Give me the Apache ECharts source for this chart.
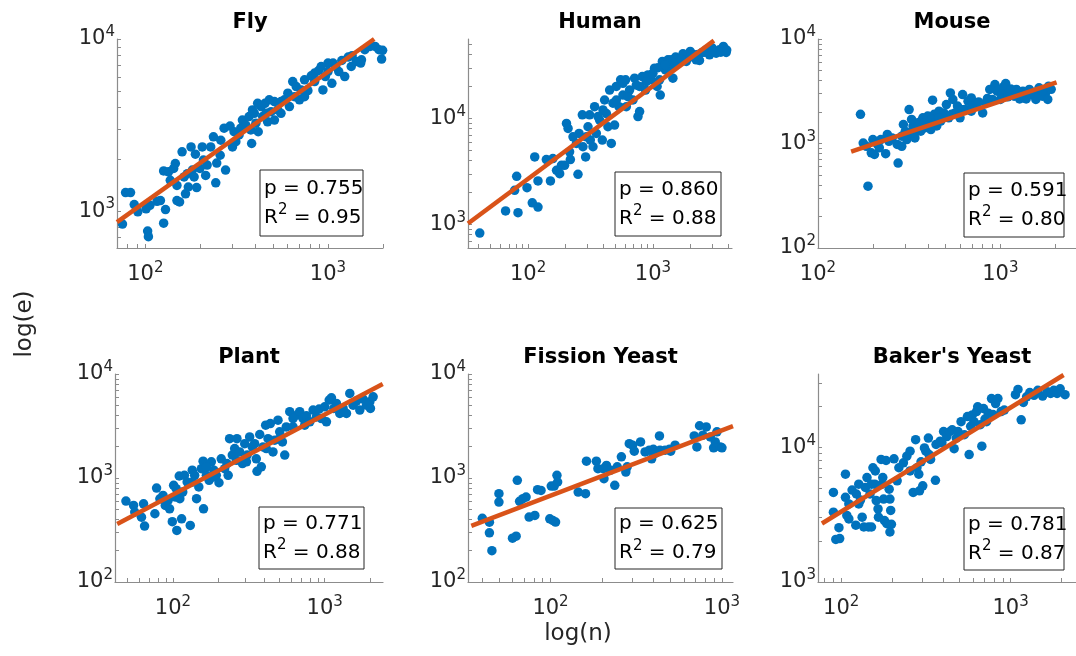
<!DOCTYPE html>
<html>
<head>
<meta charset="utf-8">
<script src="https://cdn.jsdelivr.net/npm/echarts@6/dist/echarts.min.js"></script>
<style>
  html, body { margin: 0; background: #fff; }
  #chart { width: 1076px; height: 656px; }
</style>
</head>
<body>
<div id="chart"></div>
<script>
// points: [n, e]
const fly = [[75,840],[78,1280],[83,1280],[87,1090],[91,990],[101,1030],[106,1080],[103,765],[104,710],[116,1140],[126,850],[129,1020],[126,1710],[134,1690],[143,1770],[146,1890],[149,1410],[154,1130],[159,2210],[163,1580],[166,1260],[172,1380],[178,2360],[181,1730],[188,2140],[191,1370],[199,1770],[205,2360],[208,1980],[214,1610],[218,1850],[236,2700],[243,1460],[246,1900],[257,2110],[270,3030],[275,1730],[291,3120],[300,2360],[313,2530],[326,2770],[340,3380],[355,3160],[370,3540],[382,2470],[395,3700],[403,3240],[415,2890],[430,4050],[439,3540],[452,4230],[467,3300],[488,3780],[509,4330],[530,3870],[553,3700],[577,4430],[615,4050],[641,5660],[655,4620],[698,4430],[713,5060],[744,5790],[776,5010],[810,6110],[845,6340],[889,6560],[938,5060],[967,6050],[1000,7250],[1050,5530],[1100,6920],[1145,6470],[1190,7500],[1235,6050],[1290,7850],[1355,8000],[1430,7410],[1510,7250],[1590,8670],[1700,9060],[1810,9060],[1900,8670],[1965,7640],[1990,8600],[306,2890],[333,3030],[386,3870],[412,4230],[458,3700],[477,4430],[553,4330],[603,4840],[670,5290],[845,5660],[918,6920],[1000,6470],[1066,7250],[259,2580],[228,2360],[170,1650],[185,1580],[137,1510],[149,1150],[121,1150],[378,2960],[509,3380],[1340,6920],[1525,7570],[744,4620]];
const human = [[41,830],[66,1340],[83,1290],[81,2840],[78,2100],[98,2220],[108,1600],[120,1460],[113,4330],[120,2570],[140,4090],[151,2570],[158,4180],[169,3240],[179,3010],[185,3610],[196,3610],[203,8970],[209,8030],[218,4090],[215,4840],[251,2970],[256,7210],[272,10800],[275,5400],[289,4330],[302,8340],[315,6240],[331,5400],[341,12900],[352,7210],[374,9640],[393,6240],[410,14900],[424,11100],[436,8340],[450,18500],[464,5800],[493,8650],[509,14900],[535,12900],[551,23100],[575,16600],[604,23100],[612,12900],[650,18500],[692,14900],[713,23900],[759,10400],[782,11600],[782,20000],[822,24800],[873,18500],[912,25700],[970,23100],[1030,29700],[1080,20000],[1145,16600],[1190,34400],[1260,28600],[1320,35600],[1400,35600],[1445,23900],[1520,37800],[1610,34400],[1740,40600],[1850,34400],[1990,42800],[2150,39700],[2360,35200],[2480,41800],[2670,44300],[2840,39700],[2990,46000],[3210,41200],[3410,44300],[3670,47700],[3860,41800],[509,20000],[575,21400],[631,16000],[736,20600],[1000,26700],[1130,23100],[1360,29700],[398,12000],[363,10400],[311,10800],[479,13900],[244,5800],[229,6700],[293,6700],[885,22200],[2220,35600],[1100,30000],[1250,32000],[1500,33000],[1700,36000],[2000,38000],[2300,40000],[2600,42000],[3000,43000],[3500,42000],[3900,44000]];
const mouse = [[171,1900],[188,390],[177,1010],[184,940],[196,815],[204,785],[200,1090],[212,980],[235,800],[221,1090],[245,1050],[255,1130],[275,650],[272,980],[288,1175],[294,1520],[316,2110],[307,1090],[319,1265],[332,1470],[340,1130],[354,1580],[366,1310],[376,1760],[384,1410],[400,1830],[408,1520],[425,2600],[434,1900],[448,1470],[461,2040],[471,1640],[490,1960],[506,2360],[521,1760],[532,3050],[549,2640],[565,1960],[582,2280],[601,1760],[621,2940],[639,2110],[665,2540],[693,2730],[721,2280],[743,2450],[800,1960],[832,2450],[875,3290],[904,2640],[934,3670],[960,3170],[1000,2640],[1040,3490],[1070,3750],[1107,3050],[1140,3330],[1190,2840],[1225,3290],[1276,2670],[1330,3170],[1386,2670],[1443,3290],[1503,2940],[1566,2640],[1630,3410],[1700,2840],[1770,3050],[1820,2640],[1840,3540],[326,1700],[347,1310],[368,1640],[392,1640],[416,1360],[443,1760],[480,1760],[288,940],[240,1220],[217,910],[301,1310],[693,2040],[1020,2940],[1250,3100],[1600,3050],[310,1200],[330,1250],[350,1400],[360,1500],[380,1550],[420,1700],[440,1600],[460,1750],[500,1800],[540,1900],[580,2000],[620,2100],[700,2300],[760,2500],[850,2700],[1100,2800],[1300,2900],[1450,3000],[1700,3200],[1900,3300]];
const plant = [[49,600],[55,545],[56,470],[62,420],[64,565],[65,345],[76,453],[78,800],[82,630],[86,680],[89,545],[93,610],[95,505],[99,380],[101,850],[104,655],[106,313],[110,1045],[114,405],[116,733],[119,1060],[124,915],[130,350],[134,1190],[139,1060],[143,632],[148,820],[154,1230],[158,1450],[159,505],[166,1060],[173,950],[179,1430],[186,1190],[193,1060],[201,900],[208,1530],[219,1230],[227,1375],[236,2390],[246,1660],[255,1920],[264,2390],[275,1780],[287,1375],[297,2140],[308,1660],[320,2480],[333,1990],[345,2140],[358,1160],[373,2620],[382,1280],[392,1990],[408,3220],[423,2390],[438,3340],[456,1780],[468,2310],[492,3600],[505,2780],[526,2220],[545,1660],[558,3100],[588,4340],[618,3100],[657,4030],[684,4340],[720,3730],[757,3960],[797,3470],[838,4500],[881,3870],[918,4600],[951,3730],[1000,4840],[1026,3470],[1070,5610],[1107,5910],[1147,4670],[1194,5210],[1256,4180],[1321,4670],[1390,4180],[1462,6510],[1538,5020],[1618,5490],[1702,4500],[1790,5740],[1884,5020],[1982,5400],[2084,6040],[2000,4670],[166,1280],[184,1020],[231,1060],[262,1480],[305,1430],[354,1530],[412,1920],[505,2390],[618,3730],[738,3220],[105,790],[135,915],[111,632]];
const fission = [[40,410],[44,376],[44,297],[45.5,200],[50,706],[50,587],[60,264],[63,276],[64,950],[66,596],[69,632],[75,421],[81,437],[88,760],[99,405],[103,391],[107,377],[101,837],[105,837],[109,1060],[110,915],[145,733],[160,706],[162,1450],[185,1450],[189,1230],[205,986],[212,1320],[224,1190],[237,850],[259,1600],[275,1140],[280,1280],[288,2140],[301,2070],[308,1810],[335,2220],[356,1780],[377,1850],[389,1530],[398,1890],[432,2540],[435,1850],[466,1850],[494,1890],[502,1810],[533,2070],[689,2540],[714,1990],[740,3180],[774,2580],[810,3100],[855,2480],[894,1950],[914,2220],[935,2780],[978,1990],[1000,1950],[72,656],[84,773],[245,1280],[407,1720],[203,1230]];
const baker = [[90,4620],[90,3300],[93,2070],[98,2100],[97,2530],[106,6310],[106,4250],[108,3120],[111,3800],[116,4810],[122,2640],[123,4500],[127,5320],[130,4060],[133,3030],[136,2560],[139,5040],[142,5960],[145,2560],[148,4500],[151,2560],[154,7050],[158,5320],[159,6670],[161,4020],[165,3490],[166,3030],[172,8130],[174,5320],[176,5960],[178,4130],[180,2860],[184,7980],[186,2710],[192,4890],[194,4130],[196,3400],[198,2680],[194,2350],[205,8210],[219,7050],[233,7670],[244,8590],[255,9350],[266,4620],[275,11400],[280,7050],[287,6310],[290,4750],[296,7800],[303,5180],[310,9890],[316,9350],[327,11700],[337,8130],[360,5690],[363,10500],[384,11100],[402,13100],[420,12000],[439,13100],[452,13500],[464,9770],[478,11700],[510,15500],[533,12400],[569,8830],[581,14300],[594,17400],[607,15500],[629,18400],[639,20000],[662,14700],[676,10200],[692,19400],[706,16200],[738,17900],[771,23000],[787,17500],[815,21100],[841,23000],[878,18400],[917,18900],[1067,24600],[1105,26900],[1154,16000],[1189,21500],[1242,23700],[1297,25500],[1374,24300],[1446,26500],[1544,24000],[1649,25800],[1722,25100],[1798,26500],[1879,25100],[1960,27200],[2094,24600],[393,10800],[489,13100],[556,16900],[721,15500],[330,8830],[255,6670],[214,5640],[127,3800],[151,5320],[111,2940]];

// fitted power-law lines, end points
const flyFit = [[70, 863], [1790, 10000]];
const humanFit = [[33, 1020], [3080, 54000]];
const mouseFit = [[152, 838], [2035, 3840]];
const plantFit = [[42.9, 361], [2410, 8020]];
const fissionFit = [[34.5, 347], [1160, 3160]];
const bakerFit = [[77, 2720], [2053, 34400]];

const titles = ['Fly', 'Human', 'Mouse', 'Plant', 'Fission Yeast', "Baker's Yeast"];
const pValues = ['0.755', '0.860', '0.591', '0.771', '0.625', '0.781'];
const r2Values = ['0.95', '0.88', '0.80', '0.88', '0.79', '0.87'];
const xRanges = [[70, 2000], [33, 4300], [100, 2600], [41.5, 2420], [33, 1160], [73, 2430]];
const yRanges = [[610, 10000], [600, 56000], [100, 10000], [100, 10000], [100, 10000], [1000, 35000]];

const majorTicks = [10, 100, 1000, 10000, 100000];
const minorTicks = [20, 30, 40, 50, 60, 70, 80, 90, 200, 300, 400, 500, 600, 700, 800, 900,
  2000, 3000, 4000, 5000, 6000, 7000, 8000, 9000, 20000, 30000, 40000, 50000];

const allData = [fly, human, mouse, plant, fission, baker];
const allFits = [flyFit, humanFit, mouseFit, plantFit, fissionFit, bakerFit];

// panel placement in px
const grids = [
  { left: 117, top: 39, width: 266, height: 209 },
  { left: 468, top: 39, width: 264, height: 209 },
  { left: 818, top: 39, width: 268, height: 209 },
  { left: 115, top: 374, width: 268, height: 208 },
  { left: 468, top: 374, width: 265, height: 208 },
  { left: 818, top: 374, width: 268, height: 208 }
];
const boxes = [
  [260, 170, 103, 66], [615, 172, 106, 64], [964, 173, 100, 64],
  [259, 507, 105, 62], [615, 508, 107, 61], [964, 508, 100, 62]
];

const fontFamily = '"DejaVu Sans", Verdana, sans-serif';
const blue = '#0072BD';
const orange = '#D95319';
const axisGrey = '#8c8c8c';
const ink = '#262626';

function logAxis(i, range, isX) {
  return {
    type: 'log',
    logBase: 10,
    gridIndex: i,
    min: range[0],
    max: range[1],
    axisLine: { show: true, onZero: false, lineStyle: { color: axisGrey, width: 1.2 } },
    axisTick: {
      show: true, inside: true, length: 4,
      customValues: majorTicks.concat(minorTicks),
      lineStyle: { color: axisGrey, width: 1 }
    },
    minorTick: { show: false },
    splitLine: { show: false },
    axisLabel: {
      customValues: majorTicks,
      formatter: v => '10{s|' + Math.round(Math.log10(v)) + '}',
      fontFamily: fontFamily,
      fontSize: 21,
      lineHeight: 28,
      color: ink,
      margin: isX ? 13 : 2,
      rich: { s: { fontSize: 15, lineHeight: 28, verticalAlign: 'top', color: ink, fontFamily: fontFamily } }
    }
  };
}

const series = [];
allData.forEach((d, i) => {
  series.push({
    type: 'scatter', xAxisIndex: i, yAxisIndex: i, data: d,
    symbol: 'circle', symbolSize: 9.5,
    itemStyle: { color: blue, opacity: 1 }, z: 2
  });
  series.push({
    type: 'line', xAxisIndex: i, yAxisIndex: i, data: allFits[i],
    showSymbol: false, symbol: 'none',
    lineStyle: { color: orange, width: 4.5 }, z: 3
  });
});

const graphic = [];
titles.forEach((t, i) => {
  const g = grids[i];
  graphic.push({
    type: 'text', x: g.left + g.width / 2, y: g.top - 16, z: 50,
    style: { text: t, fontFamily: fontFamily, fontSize: 21, fontWeight: 'bold', fill: '#000', align: 'center', verticalAlign: 'middle' }
  });
  const b = boxes[i];
  graphic.push({
    type: 'rect', z: 100,
    shape: { x: b[0], y: b[1], width: b[2], height: b[3] },
    style: { fill: '#fff', stroke: ink, lineWidth: 1 }
  });
  graphic.push({
    type: 'text', z: 101, x: b[0] + 4, y: b[1] + b[3] / 2,
    style: {
      text: 'p = ' + pValues[i] + '\nR{s|2} = ' + r2Values[i],
      fontFamily: fontFamily, fontSize: 20, lineHeight: 29, fill: '#000',
      align: 'left', verticalAlign: 'middle',
      rich: { s: { fontSize: 15, lineHeight: 29, verticalAlign: 'top', fill: '#000', fontFamily: fontFamily } }
    }
  });
});
graphic.push({
  type: 'text', x: 25, y: 324, rotation: Math.PI / 2, z: 50,
  style: { text: 'log(e)', fontFamily: fontFamily, fontSize: 23, fill: ink, align: 'center', verticalAlign: 'middle' }
});
graphic.push({
  type: 'text', x: 578, y: 634, z: 50,
  style: { text: 'log(n)', fontFamily: fontFamily, fontSize: 23, fill: ink, align: 'center', verticalAlign: 'middle' }
});

const chart = echarts.init(document.getElementById('chart'));
chart.setOption({
  animation: false,
  backgroundColor: '#fff',
  grid: grids,
  xAxis: xRanges.map((r, i) => logAxis(i, r, true)),
  yAxis: yRanges.map((r, i) => logAxis(i, r, false)),
  series: series,
  graphic: graphic
});
</script>
</body>
</html>
